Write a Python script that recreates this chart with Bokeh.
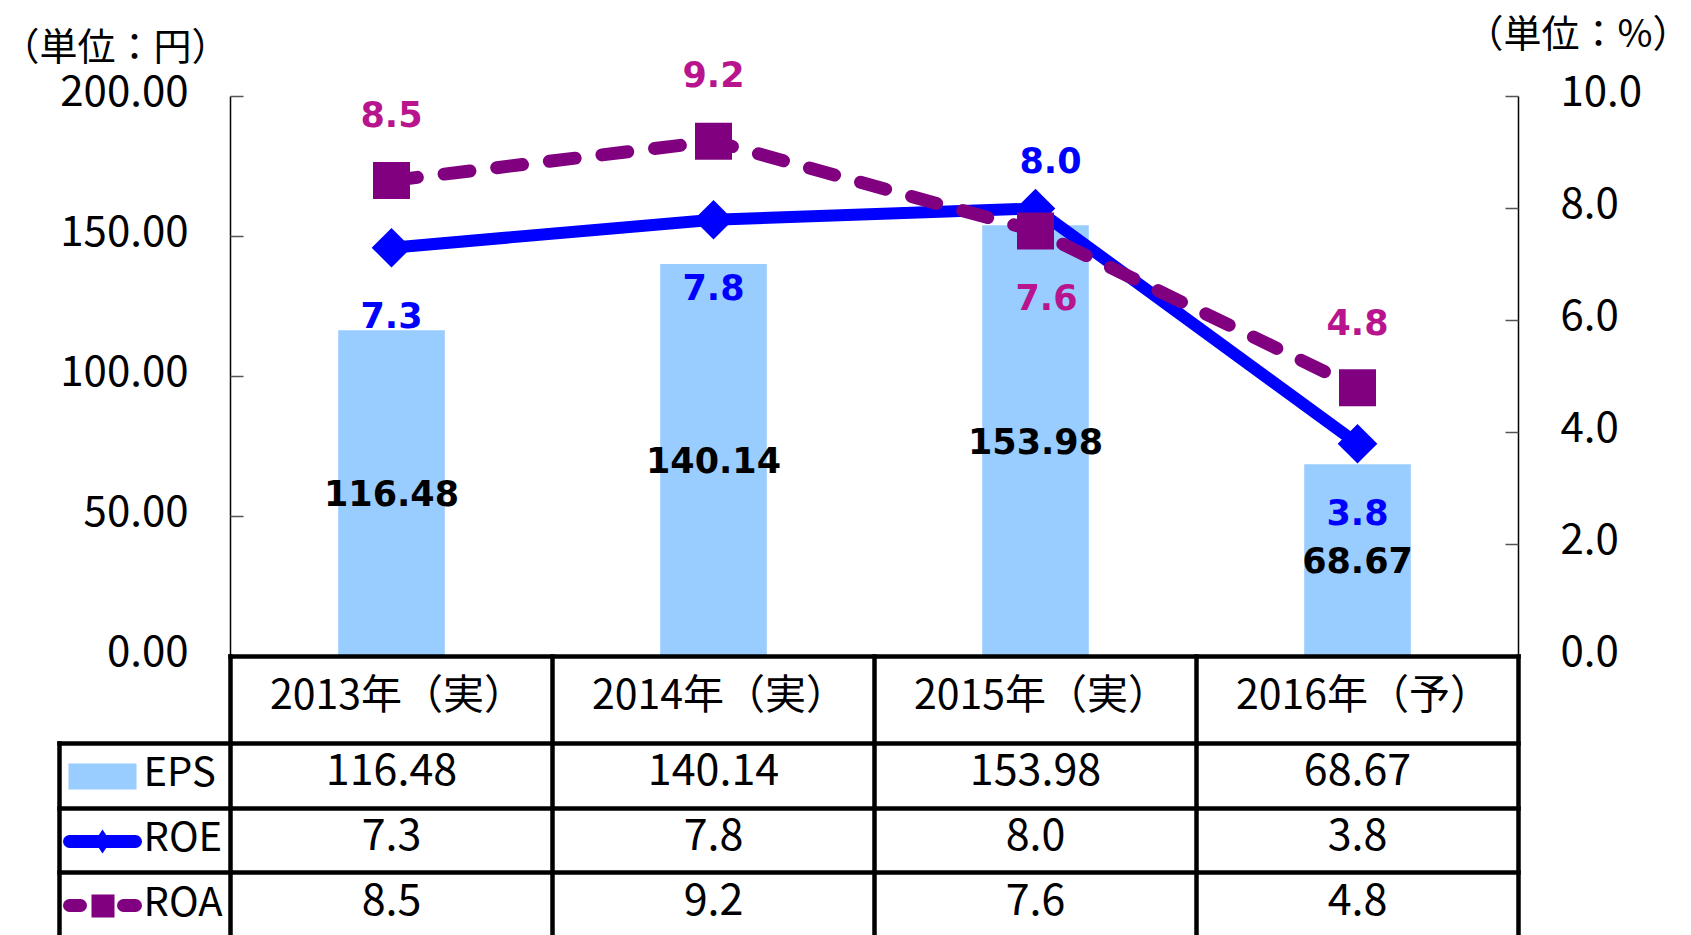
import math
from bokeh.plotting import figure
from bokeh.models import Range1d
from bokeh.core.properties import value
from bokeh.embed import file_html
from bokeh.resources import INLINE

# ---------------- data ----------------
years = ["2013年（実）", "2014年（実）", "2015年（実）", "2016年（予）"]
eps = [116.48, 140.14, 153.98, 68.67]
roe = [7.3, 7.8, 8.0, 3.8]
roa = [8.5, 9.2, 7.6, 4.8]
series_names = ["EPS", "ROE", "ROA"]
eps_ticks = [0, 50, 100, 150, 200]
eps_tick_labels = ["0.00", "50.00", "100.00", "150.00", "200.00"]
pct_ticks = [0, 2, 4, 6, 8, 10]
pct_tick_labels = ["0.0", "2.0", "4.0", "6.0", "8.0", "10.0"]
unit_left = "（単位：円）"
unit_right = "（単位：%）"

# ---------------- layout (pixels) ----------------
W, H = 1691, 935
PL, PR, PT, PB = 230, 1518, 96, 656
EPS_MAX, PCT_MAX = 200.0, 10.0
NCAT = len(years)
kx = (PR - PL) / NCAT
ky = (PB - PT) / EPS_MAX
kp = (PB - PT) / PCT_MAX


def X(px):
    return (px - PL) / kx


def Y(py):
    return (PB - py) / ky


xc = [i + 0.5 for i in range(NCAT)]

BAR = "#99CCFF"
BLUE = "#0000FF"
PURPLE = "#800080"
MAGENTA = "#B8148E"
JP = value("Noto Sans CJK JP")
BOLD = value("DejaVu Sans")

p = figure(width=W, height=H, x_range=Range1d(X(0), X(W)), y_range=Range1d(Y(H), Y(0)),
           output_backend="svg", toolbar_location=None, min_border=0,
           x_axis_type=None, y_axis_type=None, outline_line_color=None,
           background_fill_color="white", border_fill_color="white")
p.grid.visible = False
p.extra_y_ranges = {"pct": Range1d((PB - H) / kp, PB / kp)}

# ---------------- axes (drawn through the scales) ----------------
p.segment(x0=[0], y0=[0], x1=[0], y1=[EPS_MAX], line_color="black", line_width=1.5)
p.segment(x0=[NCAT], y0=[0], x1=[NCAT], y1=[PCT_MAX], line_color="black", line_width=1.5,
          y_range_name="pct")
TL = 13 / kx
p.segment(x0=[0] * len(eps_ticks), y0=eps_ticks, x1=[TL] * len(eps_ticks), y1=eps_ticks,
          line_color="#555555", line_width=1.5)
p.segment(x0=[NCAT - TL] * len(pct_ticks), y0=pct_ticks, x1=[NCAT] * len(pct_ticks), y1=pct_ticks,
          line_color="#555555", line_width=1.5, y_range_name="pct")
p.text(x=[X(188)] * len(eps_ticks), y=[t + 6 / ky for t in eps_ticks], text=eps_tick_labels,
       text_font=JP, text_font_size="42px", text_align="right", text_baseline="middle",
       text_color="black")
p.text(x=[X(1560)] * len(pct_ticks), y=[t + 6 / kp for t in pct_ticks], text=pct_tick_labels,
       text_font=JP, text_font_size="42px", text_align="left", text_baseline="middle",
       text_color="black", y_range_name="pct")
p.text(x=[X(1)], y=[Y(43)], text=[unit_left], text_font=JP, text_font_size="38px",
       text_align="left", text_baseline="middle", text_color="black")
p.text(x=[X(1690)], y=[Y(30)], text=[unit_right], text_font=JP, text_font_size="38px",
       text_align="right", text_baseline="middle", text_color="black")

# ---------------- bars and lines ----------------
p.vbar(x=xc, top=eps, bottom=0, width=0.331, fill_color=BAR, line_color=None)

p.line(x=xc, y=roe, line_color=BLUE, line_width=12, y_range_name="pct")
p.scatter(x=xc, y=roe, marker="square", size=28, angle=math.pi / 4, fill_color=BLUE,
          line_color=None, y_range_name="pct")

p.line(x=xc, y=roa, line_color=PURPLE, line_width=13, line_dash="26 27", line_cap="round",
       line_join="round", y_range_name="pct")
p.scatter(x=xc, y=roa, marker="square", size=37, fill_color=PURPLE, line_color=None,
          y_range_name="pct")

# ---------------- data labels ----------------
p.text(x=xc, y=[v / 2 for v in eps], text=[f"{v:.2f}" for v in eps], text_font=BOLD,
       text_font_style="bold", text_font_size="35px", text_align="center",
       text_baseline="middle", text_color="black")

roe_dx = [0, 0, 15, 0]
roe_dy = [-67, -67, 49, -68]
p.text(x=[c + dx / kx for c, dx in zip(xc, roe_dx)], y=[v + dy / kp for v, dy in zip(roe, roe_dy)],
       text=[f"{v:.1f}" for v in roe], text_font=BOLD, text_font_style="bold",
       text_font_size="35px", text_align="center", text_baseline="middle",
       text_color=BLUE, y_range_name="pct")

roa_dx = [0, 0, 11, 0]
roa_dy = [67, 67, -66, 66]
p.text(x=[c + dx / kx for c, dx in zip(xc, roa_dx)], y=[v + dy / kp for v, dy in zip(roa, roa_dy)],
       text=[f"{v:.1f}" for v in roa], text_font=BOLD, text_font_style="bold",
       text_font_size="35px", text_align="center", text_baseline="middle",
       text_color=MAGENTA, y_range_name="pct")

# ---------------- data table ----------------
ROWS = [656, 743, 808, 872, 940]
LEG_L = 59
hx0 = [0, X(LEG_L), X(LEG_L), X(LEG_L)]
hy = [Y(r) for r in ROWS[:4]]
p.segment(x0=hx0, y0=hy, x1=[NCAT] * 4, y1=hy, line_color="black", line_width=4.5,
          line_cap="square")
vx = list(range(NCAT + 1))
p.segment(x0=vx, y0=[Y(ROWS[0])] * len(vx), x1=vx, y1=[Y(ROWS[-1])] * len(vx),
          line_color="black", line_width=4.5, line_cap="square")
p.segment(x0=[X(LEG_L)], y0=[Y(ROWS[1])], x1=[X(LEG_L)], y1=[Y(ROWS[-1])],
          line_color="black", line_width=4.5, line_cap="square")

p.text(x=[c + 6 / kx for c in xc], y=[Y(690)] * NCAT, text=years, text_font=JP,
       text_font_size="41px", text_align="center", text_baseline="middle", text_color="black")
row_y = [768, 833, 898]
row_text = [[f"{v:.2f}" for v in eps], [f"{v:.1f}" for v in roe], [f"{v:.1f}" for v in roa]]
for ry, rt in zip(row_y, row_text):
    p.text(x=xc, y=[Y(ry)] * NCAT, text=rt, text_font=JP, text_font_size="43px",
           text_align="center", text_baseline="middle", text_color="black")

# legend column
p.text(x=[X(143)] * 3, y=[Y(r) for r in row_y], text=series_names, text_font=JP,
       text_font_size="40px", text_align="left", text_baseline="middle", text_color="black")
p.quad(left=[X(68)], right=[X(136)], top=[Y(763)], bottom=[Y(789)], fill_color=BAR, line_color=None)
p.segment(x0=[X(69)], y0=[Y(841)], x1=[X(135)], y1=[Y(841)], line_color=BLUE, line_width=13,
          line_cap="round")
p.scatter(x=[X(102)], y=[Y(841)], marker="diamond", size=24, fill_color=BLUE, line_color=None)
p.segment(x0=[X(69), X(123)], y0=[Y(905)] * 2, x1=[X(80), X(135)], y1=[Y(905)] * 2,
          line_color=PURPLE, line_width=13, line_cap="round")
p.scatter(x=[X(102.5)], y=[Y(905.5)], marker="square", size=23, fill_color=PURPLE, line_color=None)

open("out.html", "w").write(file_html(p, INLINE))
